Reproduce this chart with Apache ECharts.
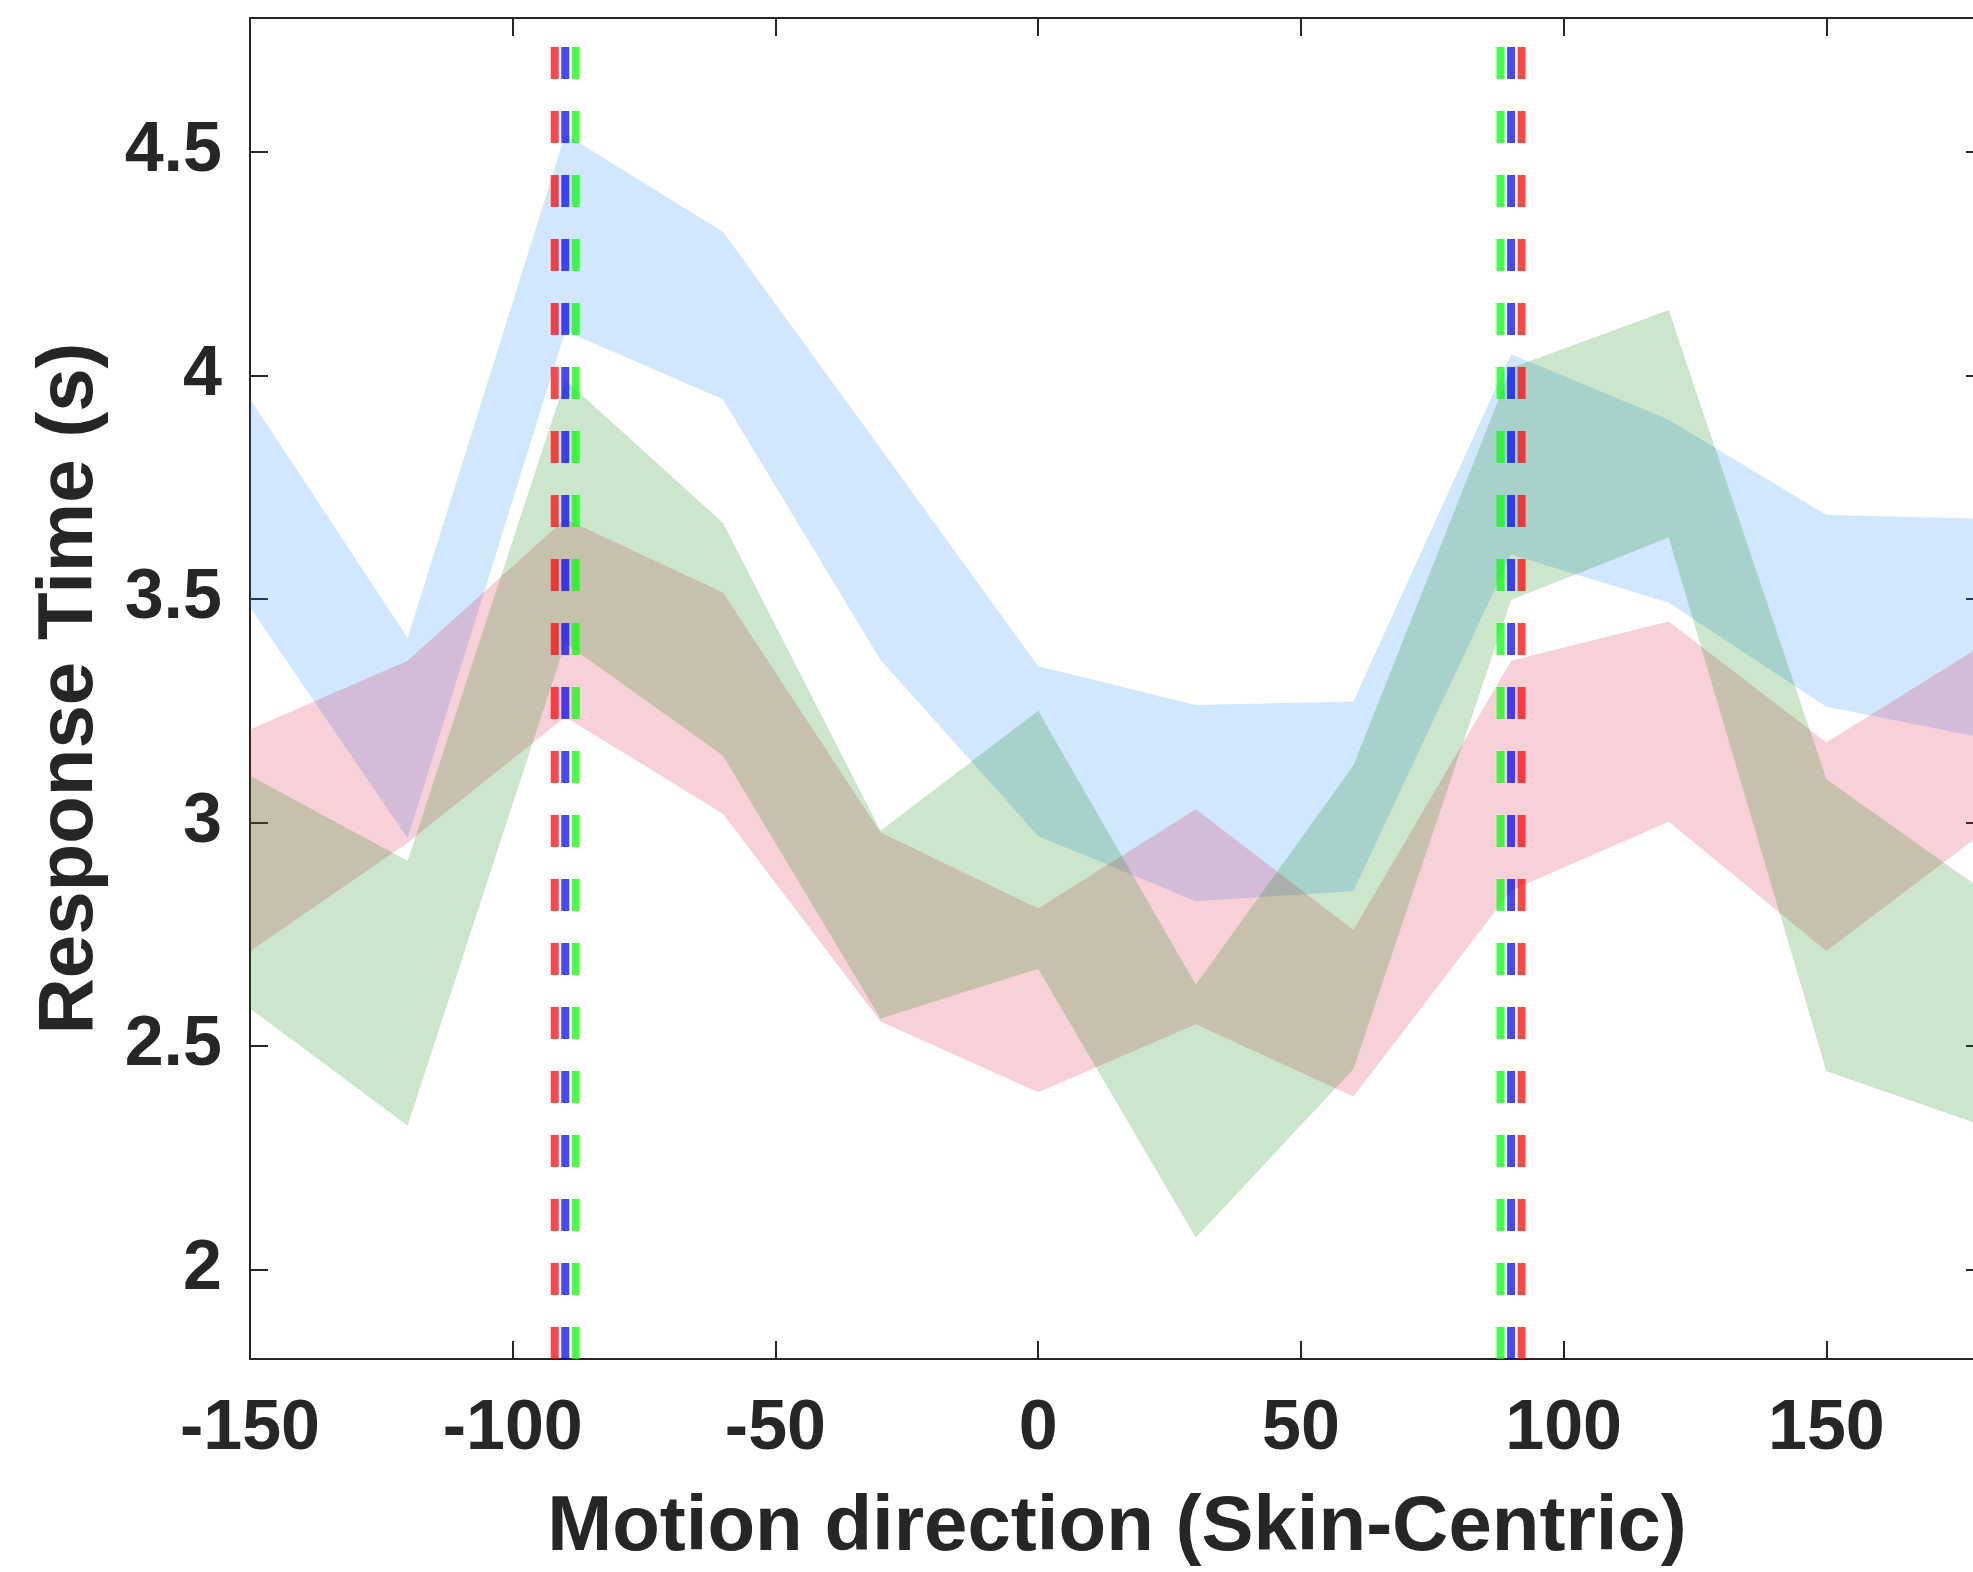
<!DOCTYPE html>
<html>
<head>
<meta charset="utf-8">
<script src="https://cdn.jsdelivr.net/npm/echarts@6/dist/echarts.min.js"></script>
<style>
html,body{margin:0;padding:0;background:#fff;overflow:hidden;width:1973px;height:1572px;}
#chart{width:1984px;height:1572px;}
</style>
</head>
<body>
<div id="chart"></div>
<script>
// ---- data ----
const directions = [-150, -120, -90, -60, -30, 0, 30, 60, 90, 120, 150, 180];
const blueUpper  = [3.948, 3.413, 4.540, 4.322, 3.837, 3.350, 3.263, 3.271, 4.048, 3.901, 3.688, 3.680];
const blueLower  = [3.482, 2.965, 4.100, 3.947, 3.364, 2.970, 2.824, 2.847, 3.600, 3.492, 3.259, 3.189];
const pinkUpper  = [3.208, 3.362, 3.679, 3.515, 2.978, 2.808, 3.030, 2.760, 3.362, 3.450, 3.179, 3.399];
const pinkLower  = [2.712, 2.955, 3.236, 3.020, 2.555, 2.397, 2.549, 2.387, 2.848, 3.002, 2.713, 2.979];
const greenUpper = [3.105, 2.914, 3.990, 3.671, 2.982, 3.250, 2.637, 3.128, 4.017, 4.147, 3.097, 2.847];
const greenLower = [2.584, 2.322, 3.402, 3.150, 2.562, 2.673, 2.071, 2.449, 3.498, 3.638, 2.444, 2.321];
const markerRedX   = [-92, 92];
const markerBlueX  = [-90, 90];
const markerGreenX = [-88, 88];
const xTicks = [-150, -100, -50, 0, 50, 100, 150];
const yTicks = [2, 2.5, 3, 3.5, 4, 4.5];
const xRange = [-150, 180];
const yRange = [1.8, 4.8];
const xTitle = 'Motion direction (Skin-Centric)';
const yTitle = 'Response Time (s)';

// ---- chart ----
const FONT = "'Liberation Sans', Arial, Helvetica, sans-serif";
const AX = '#262626';
const chart = echarts.init(document.getElementById('chart'), null, {renderer: 'canvas'});

function bandSeries(upper, lower, fill) {
  return {
    type: 'custom',
    silent: true,
    xAxisIndex: 0, yAxisIndex: 0,
    data: [[directions[0], upper[0]]],
    renderItem: function (params, api) {
      const pts = [];
      for (let i = 0; i < directions.length; i++) pts.push(api.coord([directions[i], upper[i]]));
      for (let i = directions.length - 1; i >= 0; i--) pts.push(api.coord([directions[i], lower[i]]));
      return {type: 'polygon', shape: {points: pts}, style: {fill: fill, stroke: null}};
    },
    z: 2
  };
}

function vline(x, color) {
  return {
    type: 'line', silent: true, symbol: 'none',
    xAxisIndex: 0, yAxisIndex: 0,
    data: [[x, yRange[0]], [x, yRange[1]]],
    lineStyle: {color: color, width: 8, type: [32, 32], opacity: 0.72, cap: 'butt'},
    z: 5
  };
}

const series = [
  bandSeries(blueUpper, blueLower, 'rgba(20,135,250,0.2)'),
  bandSeries(pinkUpper, pinkLower, 'rgba(220,20,60,0.2)'),
  bandSeries(greenUpper, greenLower, 'rgba(0,128,0,0.2)')
];
markerRedX.forEach(x => series.push(vline(x, 'rgb(255,0,0)')));
markerBlueX.forEach(x => series.push(vline(x, 'rgb(0,0,255)')));
markerGreenX.forEach(x => series.push(vline(x, 'rgb(0,255,0)')));

const axisLineStyle = {show: true, onZero: false, lineStyle: {color: AX, width: 2}};
const tickStyle = {show: true, inside: true, length: 18, lineStyle: {color: AX, width: 2}};

chart.setOption({
  animation: false,
  backgroundColor: '#fff',
  grid: {left: 250, right: 0, top: 18, bottom: 213, containLabel: false},
  xAxis: [{
    type: 'value', min: xRange[0], max: xRange[1], position: 'bottom',
    axisLine: axisLineStyle,
    axisTick: Object.assign({customValues: xTicks}, tickStyle),
    axisLabel: {customValues: xTicks, margin: 36, fontSize: 70, fontWeight: 'bold', color: AX, fontFamily: FONT},
    splitLine: {show: false},
    name: xTitle, nameLocation: 'middle', nameGap: 130,
    nameTextStyle: {fontSize: 78, fontWeight: 'bold', color: AX, fontFamily: FONT}
  }, {
    type: 'value', min: xRange[0], max: xRange[1], position: 'top',
    axisLine: axisLineStyle,
    axisTick: Object.assign({customValues: xTicks}, tickStyle),
    axisLabel: {show: false}, splitLine: {show: false}
  }],
  yAxis: [{
    type: 'value', min: yRange[0], max: yRange[1], position: 'left',
    axisLine: axisLineStyle,
    axisTick: Object.assign({customValues: yTicks}, tickStyle),
    axisLabel: {customValues: yTicks, margin: 28, fontSize: 70, fontWeight: 'bold', color: AX, fontFamily: FONT},
    splitLine: {show: false},
    name: yTitle, nameLocation: 'middle', nameGap: 141,
    nameTextStyle: {fontSize: 78, fontWeight: 'bold', color: AX, fontFamily: FONT}
  }, {
    type: 'value', min: yRange[0], max: yRange[1], position: 'right',
    axisLine: axisLineStyle,
    axisTick: Object.assign({customValues: yTicks}, tickStyle),
    axisLabel: {show: false}, splitLine: {show: false}
  }],
  series: series
});
</script>
</body>
</html>
